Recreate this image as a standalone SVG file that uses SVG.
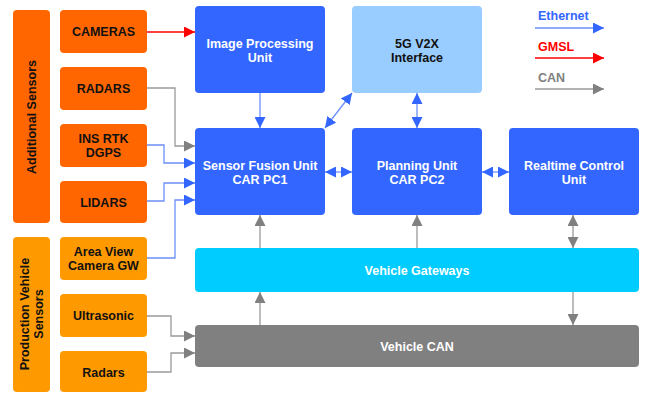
<svg xmlns="http://www.w3.org/2000/svg" width="650" height="394" viewBox="0 0 650 394">
<defs>
<style>
text{font-family:"Liberation Sans",Arial,sans-serif;font-weight:bold;font-size:12.5px;text-anchor:middle}
.w{fill:#fff}.k{fill:#111}
.add{fill:#FF6600}.prod{fill:#FF9900}.blue{fill:#3366FF}.lb{fill:#99CCFF}.cy{fill:#00CCFF}.gr{fill:#808080}
.eth{stroke:#6b8ff8;stroke-width:1.3;fill:none}
.gm{stroke:#FF0000;stroke-width:1.3;fill:none}
.can{stroke:#9a9a9a;stroke-width:1.3;fill:none}
</style>
<marker id="ae" markerUnits="userSpaceOnUse" markerWidth="11" markerHeight="11" refX="10" refY="5" orient="auto-start-reverse" viewBox="0 0 10 10"><path d="M0,0L10,5L0,10z" fill="#3366FF"/></marker>
<marker id="ar" markerUnits="userSpaceOnUse" markerWidth="11" markerHeight="11" refX="10" refY="5" orient="auto-start-reverse" viewBox="0 0 10 10"><path d="M0,0L10,5L0,10z" fill="#FF0000"/></marker>
<marker id="ag" markerUnits="userSpaceOnUse" markerWidth="11" markerHeight="11" refX="10" refY="5" orient="auto-start-reverse" viewBox="0 0 10 10"><path d="M0,0L10,5L0,10z" fill="#808080"/></marker>
</defs>
<rect width="650" height="394" fill="#fff"/>

<g id="additional-sensors"><rect class="add" x="13" y="10" width="37" height="213" rx="4"/><text class="k" transform="translate(36,117) rotate(-90)">Additional Sensors</text></g>
<g id="cameras"><rect class="add" x="60" y="10" width="87" height="43" rx="4"/><text class="k" x="103.5" y="36">CAMERAS</text></g>
<g id="radars"><rect class="add" x="60" y="67" width="87" height="43" rx="4"/><text class="k" x="103.5" y="93">RADARS</text></g>
<g id="ins"><rect class="add" x="60" y="124" width="87" height="43" rx="4"/><text class="k" x="103.5" y="143">INS RTK</text><text class="k" x="103.5" y="157">DGPS</text></g>
<g id="lidars"><rect class="add" x="60" y="181" width="87" height="42" rx="4"/><text class="k" x="103.5" y="207">LIDARS</text></g>

<g id="production-sensors"><rect class="prod" x="13" y="237" width="37" height="155" rx="4"/><text class="k" transform="translate(29,314) rotate(-90)">Production Vehicle</text><text class="k" transform="translate(43,314) rotate(-90)">Sensors</text></g>
<g id="area-view"><rect class="prod" x="60" y="237" width="87" height="43" rx="4"/><text class="k" x="103.5" y="256">Area View</text><text class="k" x="103.5" y="270">Camera GW</text></g>
<g id="ultrasonic"><rect class="prod" x="60" y="294" width="87" height="43" rx="4"/><text class="k" x="103.5" y="320">Ultrasonic</text></g>
<g id="radars2"><rect class="prod" x="60" y="351" width="87" height="41" rx="4"/><text class="k" x="103.5" y="377">Radars</text></g>

<g id="ipu"><rect class="blue" x="195" y="6" width="130" height="87" rx="4"/><text class="w" x="260" y="48">Image Processing</text><text class="w" x="260" y="62">Unit</text></g>
<g id="v2x"><rect class="lb" x="352" y="6" width="130" height="87" rx="4"/><text class="k" x="417" y="48">5G V2X</text><text class="k" x="417" y="62">Interface</text></g>
<g id="sfu"><rect class="blue" x="195" y="128" width="130" height="87" rx="4"/><text class="w" x="260" y="170">Sensor Fusion Unit</text><text class="w" x="260" y="184">CAR PC1</text></g>
<g id="planning"><rect class="blue" x="352" y="128" width="130" height="87" rx="4"/><text class="w" x="417" y="170">Planning Unit</text><text class="w" x="417" y="184">CAR PC2</text></g>
<g id="realtime"><rect class="blue" x="509" y="128" width="130" height="87" rx="4"/><text class="w" x="574" y="170">Realtime Control</text><text class="w" x="574" y="184">Unit</text></g>
<g id="gateways"><rect class="cy" x="195" y="248" width="444" height="44" rx="4"/><text class="w" x="417" y="275">Vehicle Gateways</text></g>
<g id="vcan"><rect class="gr" x="195" y="325" width="444" height="42" rx="4"/><text class="w" x="417" y="351">Vehicle CAN</text></g>

<g id="legend">
<text x="538" y="20" style="fill:#3366FF;text-anchor:start">Ethernet</text>
<line class="eth" x1="535" y1="28" x2="604" y2="28" marker-end="url(#ae)"/>
<text x="538" y="51" style="fill:#FF0000;text-anchor:start">GMSL</text>
<line class="gm" x1="535" y1="58" x2="604" y2="58" marker-end="url(#ar)"/>
<text x="538" y="82" style="fill:#808080;text-anchor:start">CAN</text>
<line class="can" x1="535" y1="89" x2="604" y2="89" marker-end="url(#ag)"/>
</g>

<g id="connectors">
<line class="gm" x1="147" y1="32" x2="195" y2="32" marker-end="url(#ar)"/>
<polyline class="can" points="147,88 175,88 175,146 195,146" marker-end="url(#ag)"/>
<polyline class="eth" points="147,145 164,145 164,163 195,163" marker-end="url(#ae)"/>
<polyline class="eth" points="147,201 164,201 164,183 195,183" marker-end="url(#ae)"/>
<polyline class="eth" points="147,258 175,258 175,200 195,200" marker-end="url(#ae)"/>
<line class="eth" x1="260" y1="93" x2="260" y2="128" marker-end="url(#ae)"/>
<line class="eth" x1="325" y1="128" x2="352" y2="93" marker-start="url(#ae)" marker-end="url(#ae)"/>
<line class="eth" x1="417" y1="93" x2="417" y2="128" marker-start="url(#ae)" marker-end="url(#ae)"/>
<line class="eth" x1="325" y1="172" x2="352" y2="172" marker-start="url(#ae)" marker-end="url(#ae)"/>
<line class="eth" x1="482" y1="172" x2="509" y2="172" marker-start="url(#ae)" marker-end="url(#ae)"/>
<line class="can" x1="260" y1="248" x2="260" y2="215" marker-end="url(#ag)"/>
<line class="can" x1="417" y1="248" x2="417" y2="215" marker-end="url(#ag)"/>
<line class="can" x1="573" y1="215" x2="573" y2="248" marker-start="url(#ag)" marker-end="url(#ag)"/>
<line class="can" x1="260" y1="325" x2="260" y2="292" marker-end="url(#ag)"/>
<line class="can" x1="573" y1="292" x2="573" y2="325" marker-end="url(#ag)"/>
<polyline class="can" points="147,316 171,316 171,336 195,336" marker-end="url(#ag)"/>
<polyline class="can" points="147,372 171,372 171,353 195,353" marker-end="url(#ag)"/>
</g>
</svg>
